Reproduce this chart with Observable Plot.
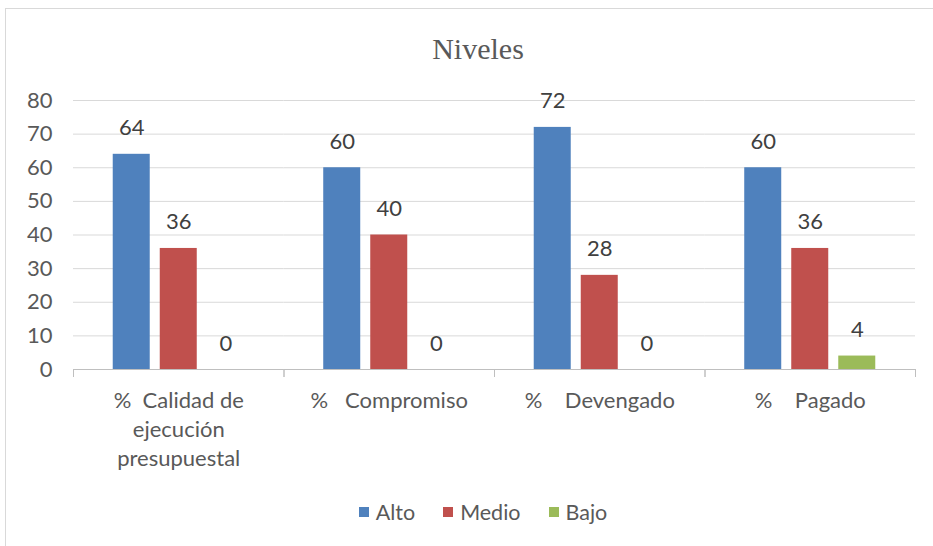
<!DOCTYPE html>
<html>
<head>
<meta charset="utf-8">
<script src="https://cdn.jsdelivr.net/npm/d3@7"></script>
<script src="https://cdn.jsdelivr.net/npm/@observablehq/plot@0.6"></script>
<style>
  html, body { margin: 0; padding: 0; background: #fff; width: 933px; height: 546px; overflow: hidden; }
  #frame { position: absolute; left: 5px; top: 8px; width: 940px; height: 560px; border: 1px solid #d9d9d9; box-sizing: border-box; }
  #title { position: absolute; left: 0; width: 956px; top: 32px; text-align: center; font-family: "Liberation Serif", serif; font-size: 30px; color: #595959; }
  #chart { position: absolute; left: 0; top: 80px; }
  #chart svg text { white-space: pre; }
  #legend { position: absolute; top: 499px; left: 0; width: 966px; display: flex; justify-content: center; font-family: Lato, sans-serif; font-size: 21.5px; color: #595959; }
  .item { display: flex; align-items: center; margin: 0 14px; }
  .sw { width: 10px; height: 10px; margin-right: 7px; }
</style>
</head>
<body>
<div id="frame"></div>
<div id="title">Niveles</div>
<div id="chart"></div>
<div id="legend"></div>
<script>
const categories = ["%  Calidad de\nejecución\npresupuestal", "%   Compromiso", "%    Devengado", "%    Pagado"];
const series = ["Alto", "Medio", "Bajo"];
const colors = ["#4F81BD", "#C0504D", "#9BBB59"];
const alto = [64, 60, 72, 60];
const medio = [36, 40, 28, 36];
const bajo = [0, 0, 0, 4];
const yTicks = [0, 10, 20, 30, 40, 50, 60, 70, 80];

const values = {Alto: alto, Medio: medio, Bajo: bajo};
const data = [];
categories.forEach((c, i) => series.forEach(s => data.push({cat: c, serie: s, value: values[s][i]})));

const W = 933, H = 399, mTop = 20, mBottom = 110;
const plotH = H - mTop - mBottom;

const chart = Plot.plot({
  width: W,
  height: H,
  marginLeft: 73,
  marginRight: 18,
  marginTop: mTop,
  marginBottom: mBottom,
  style: {fontFamily: "Lato, sans-serif", background: "transparent"},
  fx: {domain: categories, padding: 0, round: false},
  x: {domain: series, paddingInner: 0.213, paddingOuter: 0.845, round: false, axis: null},
  y: {domain: [0, 80], axis: null},
  color: {domain: series, range: colors},
  marks: [
    Plot.gridY(yTicks, {stroke: "#d9d9d9", strokeOpacity: 1}),
    Plot.axisY(yTicks, {tickSize: 0, tickPadding: 21, fontSize: 22, fill: "#595959", label: null}),
    Plot.barY(data, {fx: "cat", x: "serie", y: "value", fill: "serie"}),
    Plot.ruleY([0], {stroke: "#bfbfbf"}),
    Plot.frame({anchor: "left", stroke: "#bfbfbf", insetTop: plotH, insetBottom: -7}),
    Plot.frame({anchor: "right", stroke: "#bfbfbf", insetTop: plotH, insetBottom: -7}),
    Plot.text(data, {fx: "cat", x: "serie", y: "value", text: d => String(d.value), dy: -26, fontSize: 22, fill: "#404040"}),
    Plot.axisFx({anchor: "bottom", tickSize: 0, tickPadding: 18, fontSize: 22, fill: "#595959", lineHeight: 1.32, label: null})
  ]
});
document.getElementById("chart").appendChild(chart);

const legend = document.getElementById("legend");
series.forEach((s, i) => {
  const it = document.createElement("div");
  it.className = "item";
  const sw = document.createElement("span");
  sw.className = "sw";
  sw.style.background = colors[i];
  const t = document.createElement("span");
  t.textContent = s;
  it.appendChild(sw); it.appendChild(t);
  legend.appendChild(it);
});
</script>
</body>
</html>
